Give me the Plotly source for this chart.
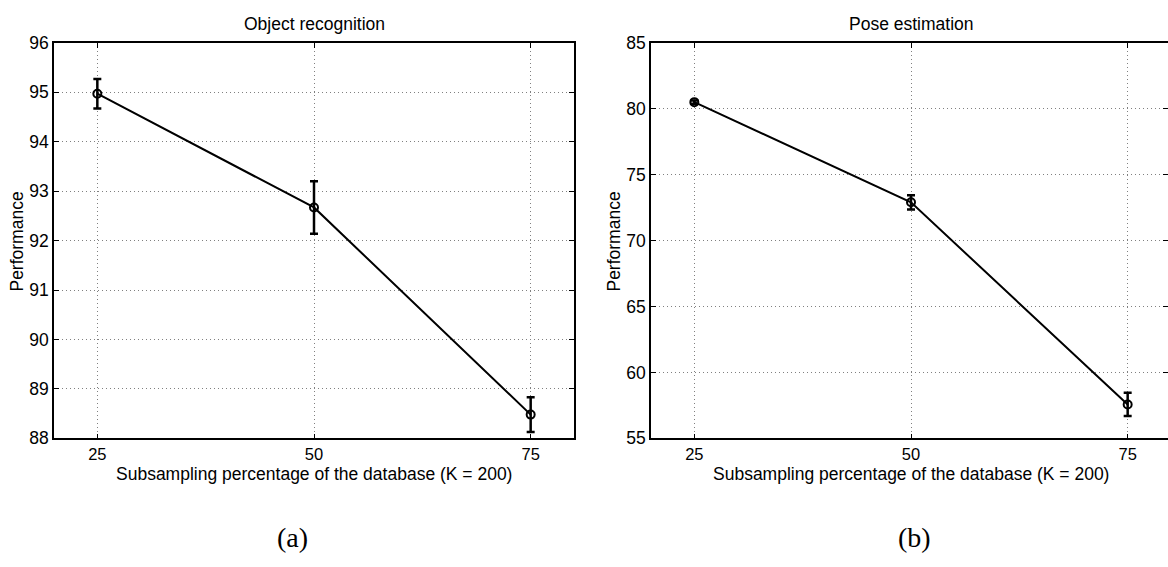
import plotly.graph_objects as go

# Subsampling percentages of the database (K = 200)
subsampling = [25, 50, 75]

# Object recognition performance and its error
object_perf = [94.97, 92.67, 88.48]
object_err = [0.30, 0.53, 0.35]

# Pose estimation performance and its error
pose_perf = [80.50, 72.90, 57.57]
pose_err = [0.12, 0.54, 0.88]

x_ticks = [25, 50, 75]
object_yticks = [88, 89, 90, 91, 92, 93, 94, 95, 96]
pose_yticks = [55, 60, 65, 70, 75, 80, 85]

W, H = 1168, 567
FONT = "Liberation Sans, Arial, Helvetica, sans-serif"
TEXT_SIZE = 17.5


def px_x(p):
    return p / W


def px_y(p):
    return 1 - p / H


fig = go.Figure()

marker = dict(symbol="circle-open", size=8, color="black", line=dict(width=2, color="black"))

fig.add_trace(go.Scatter(
    x=subsampling, y=object_perf, mode="lines+markers",
    line=dict(color="black", width=2), marker=marker,
    error_y=dict(type="data", array=object_err, visible=True,
                 color="black", thickness=2.5, width=4),
    xaxis="x", yaxis="y", showlegend=False,
))
fig.add_trace(go.Scatter(
    x=subsampling, y=pose_perf, mode="lines+markers",
    line=dict(color="black", width=2), marker=marker,
    error_y=dict(type="data", array=pose_err, visible=True,
                 color="black", thickness=2.5, width=4),
    xaxis="x2", yaxis="y2", showlegend=False,
))

# panel geometry (pixels)
left_x0, left_x1 = 54, 574
right_x0 = 651
top_y, bot_y = 34, 444
px_per_unit = (left_x1 - left_x0) / 60.0
right_max = 20 + (W - right_x0) / px_per_unit

common_axis = dict(
    showline=True, linecolor="black", linewidth=1.5,
    ticks="inside", ticklen=5, tickwidth=1, tickcolor="black",
    showgrid=True, gridcolor="#808080", griddash="1px,3px", gridwidth=1,
    zeroline=False,
)
y_tickfont = dict(family=FONT, size=TEXT_SIZE, color="black")
x_tickfont = dict(family=FONT, size=16.5, color="black")

fig.update_layout(
    width=W, height=H,
    margin=dict(l=0, r=0, t=0, b=0),
    paper_bgcolor="white", plot_bgcolor="white",
    xaxis=dict(domain=[px_x(left_x0), px_x(left_x1)], range=[20, 80],
               tickvals=x_ticks, anchor="y", mirror="ticks",
               tickfont=x_tickfont, **common_axis),
    yaxis=dict(domain=[px_y(bot_y), px_y(top_y)], range=[88, 96],
               tickvals=object_yticks, anchor="x", mirror="ticks",
               tickfont=y_tickfont, **common_axis),
    xaxis2=dict(domain=[px_x(right_x0), 1.0], range=[20, right_max],
                tickvals=x_ticks, anchor="y2", mirror="ticks",
                tickfont=x_tickfont, **common_axis),
    yaxis2=dict(domain=[px_y(bot_y), px_y(top_y)], range=[55, 85],
                tickvals=pose_yticks, anchor="x2", mirror=False,
                tickfont=y_tickfont, **common_axis),
    yaxis3=dict(overlaying="y2", matches="y2", side="right", anchor="x2",
                range=[55, 85], tickvals=pose_yticks, showticklabels=False,
                showline=False, showgrid=False, zeroline=False,
                ticks="inside", ticklen=5, tickwidth=1, tickcolor="black"),
)

# invisible trace so the right-side tick axis is drawn
fig.add_trace(go.Scatter(x=[None], y=[None], xaxis="x2", yaxis="y3",
                         showlegend=False, hoverinfo="skip"))

annotations = []
txt = dict(family=FONT, size=TEXT_SIZE, color="black")
panels = [
    ("Object recognition", left_x0, left_x1, 17, "(a)", 292),
    ("Pose estimation", right_x0, right_x0 + (left_x1 - left_x0), 614, "(b)", 914),
]
for title, x0, x1, ylab_x, tag, tag_x in panels:
    cx = (x0 + x1) / 2
    annotations.append(dict(text=title, x=px_x(cx), y=px_y(15), xref="paper", yref="paper",
                            showarrow=False, font=txt, xanchor="center", yanchor="middle"))
    annotations.append(dict(text="Subsampling percentage of the database (K = 200)",
                            x=px_x(cx), y=px_y(470), xref="paper", yref="paper",
                            showarrow=False, font=txt, xanchor="center", yanchor="top",
                            borderpad=0))
    annotations.append(dict(text="Performance", x=px_x(ylab_x), y=px_y(240),
                            xref="paper", yref="paper", showarrow=False, font=txt,
                            textangle=-90, xanchor="center", yanchor="middle"))
    annotations.append(dict(text=tag, x=px_x(tag_x), y=px_y(547), xref="paper", yref="paper",
                            showarrow=False,
                            font=dict(family="Liberation Serif, DejaVu Serif, serif",
                                      size=28, color="black"),
                            xanchor="center", yanchor="middle"))

fig.update_layout(annotations=annotations)

fig.write_html("out.html")
